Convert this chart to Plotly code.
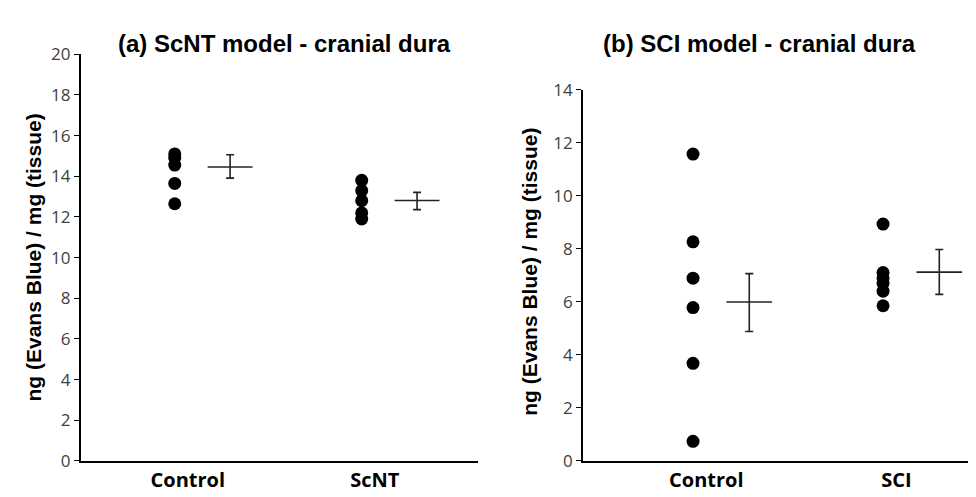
import plotly.graph_objects as go

# ---- data ----
a_categories = ["Control", "ScNT"]
a_points = [
    [15.1, 14.9, 14.55, 13.65, 12.65],   # Control
    [13.8, 13.3, 12.8, 12.2, 11.9],      # ScNT
]
a_mean = [14.46, 12.81]
a_err_up = [0.60, 0.40]
a_err_down = [0.55, 0.45]

b_categories = ["Control", "SCI"]
b_points = [
    [11.57, 8.26, 6.89, 5.78, 3.68, 0.74],  # Control
    [8.93, 7.1, 6.9, 6.7, 6.4, 5.85],       # SCI
]
b_mean = [5.99, 7.12]
b_err_up = [1.07, 0.85]
b_err_down = [1.11, 0.84]

a_yticks = [0, 2, 4, 6, 8, 10, 12, 14, 16, 18, 20]
b_yticks = [0, 2, 4, 6, 8, 10, 12, 14]

y_title = "ng (Evans Blue) / mg (tissue)"
title_a = "(a) ScNT model - cranial dura"
title_b = "(b) SCI model - cranial dura"

# ---- layout constants ----
W, H = 976, 497
CROSS_OFF = 0.296
CROSS_HALF = 0.12
LABEL_OFF = 0.07

fig = go.Figure()


def add_panel(cats, pts, mean, eu, ed, xa, ya):
    for i, vals in enumerate(pts):
        fig.add_trace(go.Scatter(
            x=[i] * len(vals), y=vals, mode="markers",
            marker=dict(size=13, color="black", line=dict(width=0)),
            xaxis=xa, yaxis=ya, showlegend=False, hoverinfo="y"))
        cx = i + CROSS_OFF
        fig.add_trace(go.Scatter(
            x=[cx - CROSS_HALF, cx + CROSS_HALF], y=[mean[i], mean[i]],
            mode="lines", line=dict(color="#222222", width=1.6),
            xaxis=xa, yaxis=ya, showlegend=False, hoverinfo="skip"))
        fig.add_trace(go.Scatter(
            x=[cx], y=[mean[i]], mode="markers",
            marker=dict(size=1, color="rgba(0,0,0,0)"),
            error_y=dict(type="data", symmetric=False, array=[eu[i]],
                         arrayminus=[ed[i]], color="#222222",
                         thickness=1.6, width=4),
            xaxis=xa, yaxis=ya, showlegend=False, hoverinfo="y"))


add_panel(a_categories, a_points, a_mean, a_err_up, a_err_down, "x", "y")
add_panel(b_categories, b_points, b_mean, b_err_up, b_err_down, "x2", "y2")

tickfont = dict(family="Open Sans, DejaVu Sans, sans-serif", size=17, color="#404040")
xtickfont = dict(family="Open Sans, DejaVu Sans, sans-serif", size=20, color="black")

y_bottom = 1 - 462.3 / H
ax_common = dict(showgrid=False, zeroline=False, showline=True,
                 linecolor="black", linewidth=1.6)

fig.update_layout(
    width=W, height=H,
    margin=dict(l=0, r=0, t=0, b=0),
    paper_bgcolor="white", plot_bgcolor="white",
    xaxis=dict(domain=[72.7 / W, 470 / W], range=[-0.503, 1.622],
               tickvals=[i + LABEL_OFF for i in range(len(a_categories))],
               ticktext=["<b>%s</b>" % c for c in a_categories],
               ticks="", tickfont=xtickfont, anchor="y", **ax_common),
    yaxis=dict(domain=[y_bottom, 1 - 36 / H], range=[0, 20],
               tickvals=a_yticks, ticks="outside", ticklen=5, tickwidth=1.3,
               tickcolor="black", tickfont=tickfont, anchor="x", **ax_common),
    xaxis2=dict(domain=[575 / W, 975 / W], range=[-0.579, 1.526],
                tickvals=[i + LABEL_OFF for i in range(len(b_categories))],
                ticktext=["<b>%s</b>" % c for c in b_categories],
                ticks="", tickfont=xtickfont, anchor="y2", **ax_common),
    yaxis2=dict(domain=[y_bottom, 1 - 73 / H], range=[0, 14],
                tickvals=b_yticks, ticks="outside", ticklen=5, tickwidth=1.3,
                tickcolor="black", tickfont=tickfont, anchor="x2", **ax_common),
)

title_font = dict(family="Liberation Sans, Arial, sans-serif", size=24, color="black")
ytitle_font = dict(family="Liberation Sans, Arial, sans-serif", size=21, color="black")

fig.add_annotation(text="<b>%s</b>" % title_a, x=276 / W, y=1 - 25 / H,
                   xref="paper", yref="paper", showarrow=False, font=title_font,
                   xanchor="center", yanchor="middle")
fig.add_annotation(text="<b>%s</b>" % title_b, x=751 / W, y=1 - 25 / H,
                   xref="paper", yref="paper", showarrow=False, font=title_font,
                   xanchor="center", yanchor="middle")
fig.add_annotation(text="<b>%s</b>" % y_title, x=25 / W, y=1 - 249 / H,
                   xref="paper", yref="paper", showarrow=False, textangle=-90,
                   font=ytitle_font, xanchor="center", yanchor="middle")
fig.add_annotation(text="<b>%s</b>" % y_title, x=522 / W, y=1 - 264 / H,
                   xref="paper", yref="paper", showarrow=False, textangle=-90,
                   font=ytitle_font, xanchor="center", yanchor="middle")

fig.write_html("out.html")
